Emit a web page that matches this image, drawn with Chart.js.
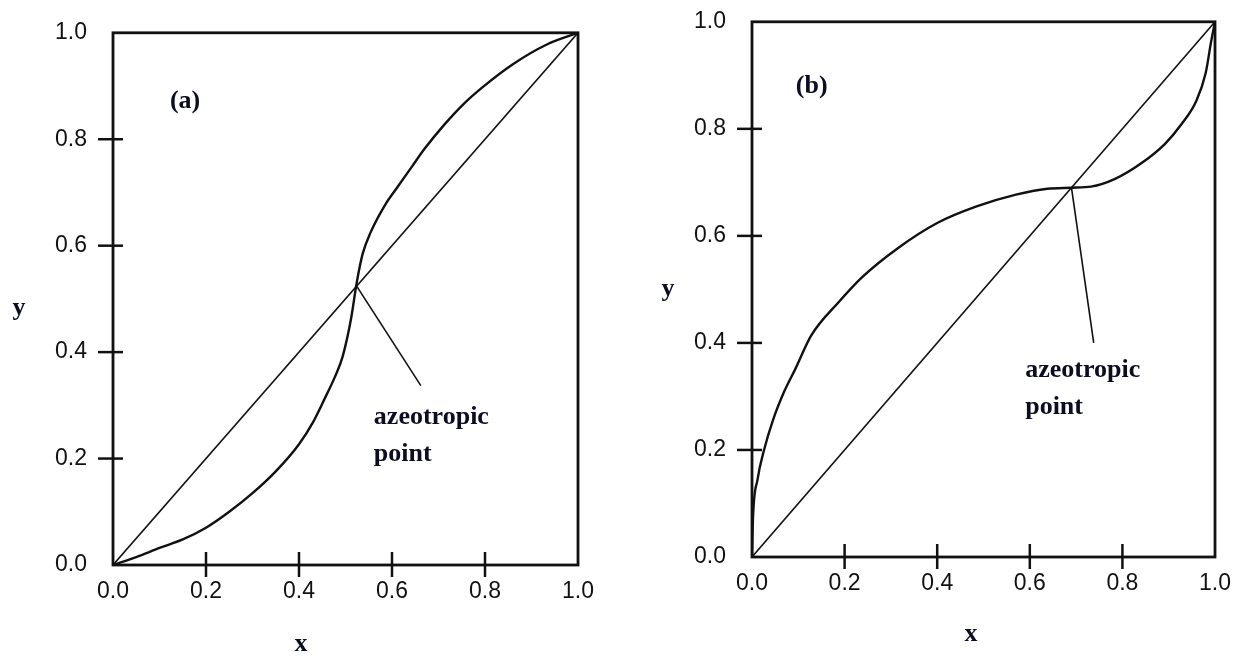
<!DOCTYPE html>
<html>
<head>
<meta charset="utf-8">
<script src="https://cdn.jsdelivr.net/npm/chart.js@4/dist/chart.umd.min.js"></script>
<style>
  body { margin: 0; background: #fff; width: 1244px; height: 657px; position: relative; overflow: hidden; }
  canvas { position: absolute; }
  #chartA { left: 0; top: -7px; }
  #chartB { left: 620px; top: -18px; }
</style>
</head>
<body>
<canvas id="chartA" width="620" height="664"></canvas>
<canvas id="chartB" width="624" height="675"></canvas>
<script>
// x-y equilibrium curves
const tickValues = [0, 0.2, 0.4, 0.6, 0.8, 1.0];
const diagX = [0, 1];
const diagY = [0, 1];

// (a) minimum-boiling type, azeotrope near 0.52
const curveAX = [0, 0.05, 0.1, 0.15, 0.2, 0.25, 0.3, 0.35, 0.4, 0.43, 0.456, 0.477, 0.494, 0.512, 0.524, 0.537, 0.554, 0.584, 0.61, 0.644, 0.67, 0.713, 0.756, 0.795, 0.86, 0.933, 1];
const curveAY = [0, 0.015, 0.032, 0.048, 0.07, 0.1, 0.135, 0.176, 0.227, 0.268, 0.314, 0.353, 0.392, 0.463, 0.53, 0.585, 0.625, 0.675, 0.708, 0.75, 0.782, 0.828, 0.868, 0.898, 0.941, 0.978, 1];
const azeoA = [0.524, 0.524];
const pointerAEnd = [0.662, 0.337];

// (b) curve flattening through azeotrope near 0.69
const curveBX = [0, 0.002, 0.012, 0.026, 0.045, 0.07, 0.094, 0.128, 0.187, 0.238, 0.315, 0.4, 0.485, 0.57, 0.638, 0.69, 0.732, 0.783, 0.843, 0.892, 0.927, 0.96, 0.98, 0.992, 1];
const curveBY = [0, 0.07, 0.145, 0.2, 0.255, 0.31, 0.352, 0.414, 0.476, 0.523, 0.577, 0.624, 0.655, 0.677, 0.688, 0.69, 0.692, 0.706, 0.737, 0.772, 0.808, 0.853, 0.905, 0.965, 1];
const azeoB = [0.69, 0.69];
const pointerBEnd = [0.738, 0.40];

const toPts = (xs, ys) => xs.map((x, i) => ({ x: x, y: ys[i] }));

const serifBold = "bold 26px 'Liberation Serif', 'Times New Roman', serif";
const textColor = "#0c0c22";

// frame, crossing tick marks and the hand-placed labels
const decorPlugin = {
  id: "decor",
  afterDatasetsDraw(chart, args, opts) {
    const ctx = chart.ctx;
    const a = chart.chartArea;
    const xs = chart.scales.x;
    const ys = chart.scales.y;
    ctx.save();
    ctx.strokeStyle = "#111";
    ctx.lineWidth = 2.8;
    ctx.strokeRect(a.left, a.top, a.right - a.left, a.bottom - a.top);

    ctx.lineWidth = 2.5;
    tickValues.slice(1, -1).forEach(v => {
      const px = xs.getPixelForValue(v);
      ctx.beginPath();
      ctx.moveTo(px, a.bottom - 13);
      ctx.lineTo(px, a.bottom + 12);
      ctx.stroke();
      const py = ys.getPixelForValue(v);
      ctx.beginPath();
      ctx.moveTo(a.left - 15, py);
      ctx.lineTo(a.left + 10, py);
      ctx.stroke();
    });

    ctx.fillStyle = textColor;
    ctx.font = serifBold;
    ctx.textBaseline = "middle";
    ctx.textAlign = "center";
    ctx.fillText(opts.tag, xs.getPixelForValue(opts.tagAt[0]), ys.getPixelForValue(opts.tagAt[1]));
    ctx.fillText("y", opts.yTitle[0], opts.yTitle[1] + opts.shift);
    ctx.fillText("x", opts.xTitle[0], opts.xTitle[1] + opts.shift);

    ctx.textAlign = "left";
    const tx = xs.getPixelForValue(opts.noteAt[0]);
    const ty = ys.getPixelForValue(opts.noteAt[1]);
    ctx.fillText("azeotropic", tx, ty);
    ctx.fillText("point", tx, ty + 37);
    ctx.restore();
  }
};

function makeChart(id, curve, azeo, pointerEnd, pad, yWidth, decor) {
  const line = (data, w) => ({
    data: data,
    borderColor: "#111",
    borderWidth: w,
    pointRadius: 0,
    fill: false
  });
  return new Chart(document.getElementById(id), {
    type: "scatter",
    data: {
      datasets: [
        Object.assign(line(toPts(diagX, diagY), 1.6), { showLine: true }),
        Object.assign(line(curve, 2.4), { showLine: true, cubicInterpolationMode: "monotone" }),
        Object.assign(line([{ x: azeo[0], y: azeo[1] }, { x: pointerEnd[0], y: pointerEnd[1] }], 1.6), { showLine: true })
      ]
    },
    options: {
      responsive: false,
      animation: false,
      devicePixelRatio: 1,
      layout: { padding: pad },
      plugins: {
        legend: { display: false },
        tooltip: { enabled: false },
        decor: decor
      },
      scales: {
        x: {
          type: "linear",
          min: 0,
          max: 1,
          afterFit: s => { s.height = 60; },
          afterBuildTicks: s => { s.ticks = tickValues.map(v => ({ value: v })); },
          grid: { display: false, drawTicks: false },
          border: { display: false },
          ticks: {
            padding: 13,
            color: "#111",
            font: { family: "'Liberation Sans', Arial, sans-serif", size: 23 },
            callback: v => v.toFixed(1)
          }
        },
        y: {
          type: "linear",
          min: 0,
          max: 1,
          afterFit: s => { s.width = yWidth; },
          afterBuildTicks: s => { s.ticks = tickValues.map(v => ({ value: v })); },
          grid: { display: false, drawTicks: false },
          border: { display: false },
          ticks: {
            padding: 26,
            color: "#111",
            font: { family: "'Liberation Sans', Arial, sans-serif", size: 23 },
            callback: v => v.toFixed(1)
          }
        }
      }
    },
    plugins: [decorPlugin]
  });
}

makeChart("chartA", toPts(curveAX, curveAY), azeoA, pointerAEnd,
  { left: 0, top: 0, right: 42, bottom: 32 }, 113,
  { tag: "(a)", tagAt: [0.155, 0.872], noteAt: [0.561, 0.278], yTitle: [19, 308], xTitle: [301, 644], shift: 7 });

makeChart("chartB", toPts(curveBX, curveBY), azeoB, pointerBEnd,
  { left: 0, top: 0, right: 27, bottom: 40 }, 132,
  { tag: "(b)", tagAt: [0.129, 0.879], noteAt: [0.59, 0.348], yTitle: [48, 289], xTitle: [351, 634], shift: 18 });
</script>
</body>
</html>
